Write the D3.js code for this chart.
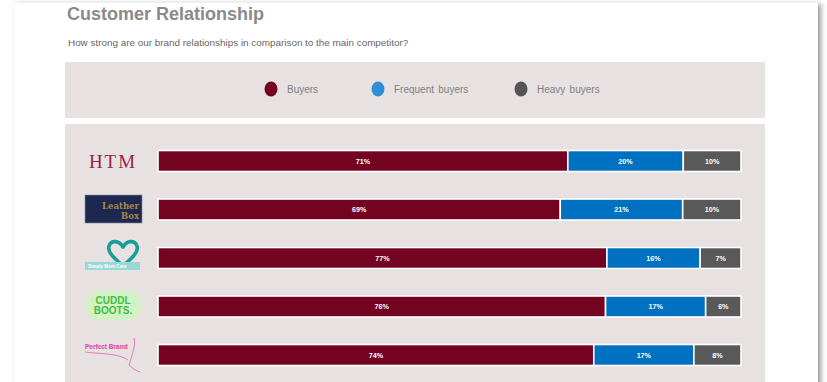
<!DOCTYPE html>
<html>
<head>
<meta charset="utf-8">
<script src="https://cdn.jsdelivr.net/npm/d3@7"></script>
<style>
  html, body { margin: 0; padding: 0; background: #fff; overflow: hidden; }
  #card {
    position: absolute; left: 14px; top: 2px; width: 804px; height: 420px;
    background: #fff; border-top: 1px solid #f0f0f0;
    box-shadow: 3px 2px 5px rgba(0,0,0,0.4);
  }
  svg { position: absolute; left: 0; top: 0; font-family: "Liberation Sans", Arial, sans-serif; }
</style>
</head>
<body>
<div id="card"></div>
<div id="chart"></div>
<script>
const brands = ['HTM', 'Leather Box', 'Simply Mom Care', 'Cuddl Boots', 'Perfect Brand'];
const seriesNames = ['Buyers', 'Frequent buyers', 'Heavy buyers'];
const buyers = [71, 69, 77, 76, 74];
const frequentBuyers = [20, 21, 16, 17, 17];
const heavyBuyers = [10, 10, 7, 6, 8];

const COLORS = ['#740322', '#0070c0', '#595959'];
const LEGEND_COLORS = ['#740322', '#2f8fd6', '#555555'];

const width = 827, height = 382;

const rows = brands.map((b, i) => ({
  brand: b,
  'Buyers': buyers[i],
  'Frequent buyers': frequentBuyers[i],
  'Heavy buyers': heavyBuyers[i]
}));

const svg = d3.select('#chart').append('svg')
  .attr('width', width)
  .attr('height', height);

// title
svg.append('text')
  .attr('x', 67).attr('y', 20)
  .attr('font-size', '18px').attr('font-weight', 'bold')
  .attr('fill', '#8a8a8a')
  .text('Customer Relationship');

svg.append('text')
  .attr('x', 68).attr('y', 46)
  .attr('font-size', '9.9px')
  .attr('fill', '#666')
  .text('How strong are our brand relationships in comparison to the main competitor?');

// panels
svg.append('rect').attr('x', 65).attr('y', 62).attr('width', 700).attr('height', 56).attr('fill', '#e7e1e1');
svg.append('rect').attr('x', 65).attr('y', 124).attr('width', 700).attr('height', 270).attr('fill', '#e7e1e1');

// legend
const legendX = [271, 378, 521];
const legend = svg.append('g');
seriesNames.forEach((name, i) => {
  const g = legend.append('g').attr('transform', 'translate(' + legendX[i] + ',89)');
  g.append('ellipse').attr('rx', 6.5).attr('ry', 7.5).attr('fill', LEGEND_COLORS[i]);
  g.append('text').text(name).attr('x', 16).attr('dy', 3.5)
    .attr('fill', '#808080').attr('font-size', '10px')
    .attr('word-spacing', '1.5px');
});

// bars
const stack = d3.stack().keys(seriesNames).offset(d3.stackOffsetExpand);
const stacked = stack(rows);

const x = d3.scaleLinear().domain([0, 1]).range([158, 741]);
const y = d3.scalePoint().domain(brands).range([161, 355]);
const barH = 21;

const layer = svg.append('g')
  .selectAll('g')
  .data(stacked)
  .join('g')
  .attr('fill', (d, i) => COLORS[i]);

layer.selectAll('rect')
  .data(d => d.map(v => Object.assign(v, { key: d.key })))
  .join('rect')
  .attr('x', d => x(d[0]))
  .attr('y', d => y(d.data.brand) - barH / 2)
  .attr('width', d => x(d[1]) - x(d[0]))
  .attr('height', barH)
  .attr('stroke', '#fff')
  .attr('stroke-width', 1.6);

layer.selectAll('text')
  .data(d => d)
  .join('text')
  .attr('x', d => (x(d[0]) + x(d[1])) / 2)
  .attr('y', d => y(d.data.brand) + 2.5)
  .attr('text-anchor', 'middle')
  .attr('fill', '#fff')
  .attr('font-size', '7.2px')
  .attr('font-weight', 'bold')
  .text(d => d.data[d.key] + '%');

// brand logos
const logos = svg.append('g');

// HTM
logos.append('text')
  .attr('x', 113).attr('y', y('HTM') + 7)
  .attr('text-anchor', 'middle')
  .attr('font-family', '"Liberation Serif", serif')
  .attr('font-size', '19px')
  .attr('letter-spacing', '2px')
  .attr('fill', '#9a1f48')
  .text('HTM');

// Leather Box
const lb = logos.append('g').attr('transform', 'translate(0,' + y('Leather Box') + ')');
lb.append('rect').attr('x', 85).attr('y', -14.5).attr('width', 57).attr('height', 28)
  .attr('fill', '#1d2850').attr('stroke', '#8a8a9a').attr('stroke-width', 0.6);
lb.append('text').attr('x', 139).attr('y', -1).attr('text-anchor', 'end')
  .attr('font-family', '"DejaVu Serif", serif').attr('font-weight', 'bold')
  .attr('font-size', '8.5px').attr('fill', '#a88748').text('Leather');
lb.append('text').attr('x', 139).attr('y', 9).attr('text-anchor', 'end')
  .attr('font-family', '"DejaVu Serif", serif').attr('font-weight', 'bold')
  .attr('font-size', '8.5px').attr('fill', '#a88748').text('Box');

// Simply Mom Care heart
const sm = logos.append('g').attr('transform', 'translate(0,' + y('Simply Mom Care') + ')');
sm.append('path')
  .attr('d', 'M123,8 C114,0 107,-6 109,-12 C111,-18 119,-18 123,-11 C127,-18 135,-18 137,-12 C139,-6 132,0 123,8 Z')
  .attr('fill', 'none').attr('stroke', '#169e97').attr('stroke-width', 3.6)
  .attr('stroke-linejoin', 'round');
sm.append('rect').attr('x', 85).attr('y', 4).attr('width', 55).attr('height', 8).attr('fill', '#97d8d4');
sm.append('text').attr('x', 88).attr('y', 10).attr('font-size', '4.6px').attr('font-weight', 'bold')
  .attr('fill', '#fff').text('Simply Mom Care');

// Cuddl Boots
const cb = logos.append('g').attr('transform', 'translate(0,' + y('Cuddl Boots') + ')');
cb.append('circle').attr('cx', 100).attr('cy', -1).attr('r', 15).attr('fill', '#d3f1c6');
cb.append('circle').attr('cx', 127).attr('cy', -1).attr('r', 15).attr('fill', '#d3f1c6');
cb.append('rect').attr('x', 100).attr('y', -16).attr('width', 27).attr('height', 30).attr('fill', '#d3f1c6');
cb.append('text').attr('x', 113).attr('y', -3).attr('text-anchor', 'middle')
  .attr('font-size', '10px').attr('font-weight', 'bold').attr('fill', '#3fbf3a').text('CUDDL');
cb.append('text').attr('x', 113).attr('y', 7).attr('text-anchor', 'middle')
  .attr('font-size', '10px').attr('font-weight', 'bold').attr('fill', '#3fbf3a').text('BOOTS.');

// Perfect Brand
const pb = logos.append('g').attr('transform', 'translate(0,' + y('Perfect Brand') + ')');
pb.append('text').attr('x', 85).attr('y', -6).attr('font-size', '6.5px').attr('font-weight', 'bold')
  .attr('fill', '#e0409c').text('Perfect Brand');
pb.append('path')
  .attr('d', 'M85,-3 C100,-1 118,-2 128,5 M129,10 C132,0 136,-10 134,-17 M129,10 C133,14 137,16 140,17')
  .attr('fill', 'none').attr('stroke', '#ec6bb6').attr('stroke-width', 0.9);
</script>
</body>
</html>
